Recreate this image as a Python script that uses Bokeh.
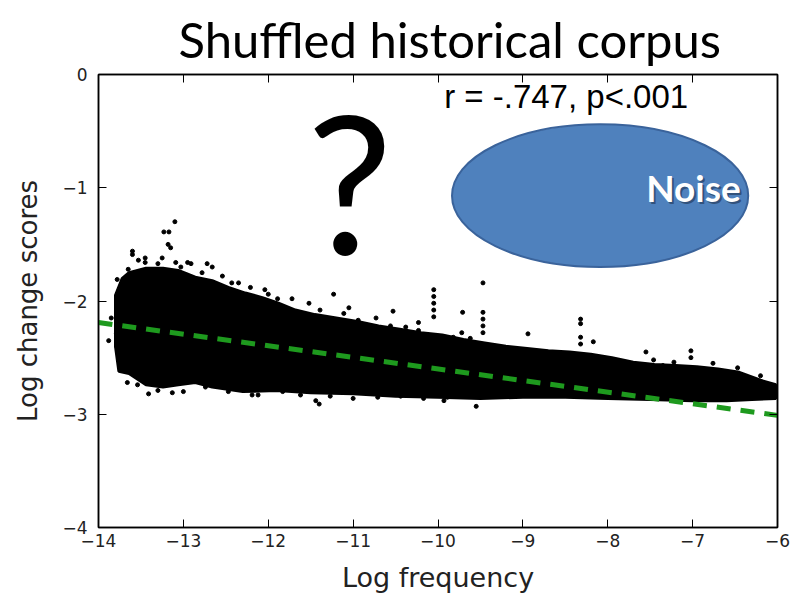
from bokeh.plotting import figure
from bokeh.models import Range1d, LinearAxis, FixedTicker, CustomJSTickFormatter
from bokeh.core.properties import value
from bokeh.embed import file_html
from bokeh.resources import INLINE

# ---- data ----
title_text = "Shuffled historical corpus"
x_label = "Log frequency"
y_label = "Log change scores"
stat_text = "r = -.747, p<.001"
x_ticks = [-14, -13, -12, -11, -10, -9, -8, -7, -6]
y_ticks = [-4, -3, -2, -1, 0]

# envelope of the dense point cloud (upper edge left->right, lower edge right->left)
cloud_upper_x = [-13.80, -13.72, -13.64, -13.44, -13.24, -13.06, -12.86, -12.66, -12.47, -12.27,
                 -12.07, -11.88, -11.68, -11.45, -11.20, -10.95, -10.70, -10.45, -10.20, -9.95,
                 -9.70, -9.45, -9.20, -8.95, -8.70, -8.45, -8.20, -7.95, -7.70, -7.45,
                 -7.20, -6.95, -6.70, -6.45, -6.20, -6.02]
cloud_upper_y = [-1.95, -1.80, -1.75, -1.71, -1.71, -1.73, -1.79, -1.82, -1.88, -1.93,
                 -1.97, -2.02, -2.08, -2.12, -2.15, -2.18, -2.22, -2.25, -2.28, -2.30,
                 -2.34, -2.37, -2.40, -2.42, -2.44, -2.45, -2.47, -2.50, -2.54, -2.56,
                 -2.57, -2.58, -2.60, -2.63, -2.70, -2.74]
cloud_lower_x = [-6.02, -6.30, -6.60, -7.00, -7.50, -8.00, -8.50, -9.00, -9.50, -10.00,
                 -10.50, -11.00, -11.50, -11.90, -12.30, -12.66, -12.86, -13.06, -13.24, -13.44,
                 -13.64, -13.76, -13.80]
cloud_lower_y = [-2.86, -2.87, -2.88, -2.88, -2.87, -2.86, -2.85, -2.85, -2.86, -2.85,
                 -2.84, -2.82, -2.81, -2.79, -2.80, -2.76, -2.72, -2.74, -2.76, -2.74,
                 -2.64, -2.62, -2.40]

# individual points standing out of / fringing the cloud
outlier_x = [-13.10, -13.23, -13.17, -13.18, -13.15, -13.60, -13.60, -13.53, -13.45, -13.25,
             -13.09, -12.91, -12.72, -12.66, -13.78, -12.43, -12.21, -12.04, -11.72, -11.52,
             -11.23, -11.05, -10.73, -10.53, -10.23, -10.05, -10.05, -10.05, -10.05, -10.05,
             -9.71, -9.47, -9.47, -9.47, -9.47, -9.47, -8.94, -8.32, -8.32, -8.32,
             -8.32, -8.17, -7.55, -7.22, -7.02, -7.02, -13.54, -13.41, -13.13, -12.12,
             -11.44, -11.40, -9.93, -9.55, -13.78, -13.79, -13.76, -13.85, -13.88,
             -13.03, -12.95, -13.45, -13.65, -13.30, -12.78, -12.54, -12.35, -12.00, -11.89,
             -13.66, -13.30, -13.00, -12.74, -12.47, -12.19, -11.83,
             -11.62, -11.27, -11.00, -10.71, -10.44, -10.17, -9.89, -9.65,
             -11.39, -11.11, -10.94, -10.56, -10.38, -10.23, -9.94, -9.82, -9.72, -9.62,
             -7.46, -7.35, -7.09, -6.76, -6.47, -6.20, -6.11, -6.00]
outlier_y = [-1.30, -1.39, -1.39, -1.50, -1.53, -1.56, -1.59, -1.64, -1.62, -1.62,
             -1.66, -1.67, -1.67, -1.70, -1.81, -1.84, -1.88, -1.90, -1.98, -2.02,
             -1.94, -2.06, -2.15, -2.09, -2.19, -1.90, -1.96, -2.02, -2.08, -2.14,
             -2.10, -1.84, -2.10, -2.16, -2.22, -2.28, -2.29, -2.16, -2.20, -2.32,
             -2.38, -2.36, -2.45, -2.54, -2.44, -2.50, -2.74, -2.82, -2.81, -2.83,
             -2.88, -2.91, -2.88, -2.93, -2.41, -2.29, -2.00, -2.15, -2.35,
             -1.70, -1.66, -1.66, -1.72, -1.67, -1.75, -1.78, -1.84, -1.94, -1.98,
             -2.72, -2.79, -2.80, -2.76, -2.80, -2.83, -2.80,
             -2.83, -2.84, -2.86, -2.85, -2.84, -2.86, -2.85, -2.84,
             -2.08, -2.11, -2.17, -2.22, -2.23, -2.26, -2.32, -2.32, -2.28, -2.33,
             -2.52, -2.57, -2.59, -2.55, -2.59, -2.66, -2.76, -2.82]

# regression (fit) line
fit_x = [-14.0, -6.0]
fit_y = [-2.19, -3.01]

# annotation shapes / labels
noise_x = [-8.09]
noise_y = [-1.07]
noise_w = [3.49]
noise_h = [1.26]
noise_label = "Noise"
question_mark = "?"

# ---- figure ----
p = figure(width=796, height=595, x_range=Range1d(-14, -6), y_range=Range1d(-4, 0),
           output_backend="svg", toolbar_location=None,
           min_border_left=98, min_border_right=19, min_border_top=73, min_border_bottom=67)
p.background_fill_color = "white"
p.border_fill_color = "white"
p.outline_line_color = "black"
p.outline_line_width = 1.5
p.grid.visible = False

p.title.text = title_text
p.title.text_font = "Lato"
p.title.text_font_size = "49px"
p.title.text_font_style = "normal"
p.title.text_color = "black"
p.title.align = "left"
p.title.offset = 80
p.title.standoff = 14

fmt = CustomJSTickFormatter(code="return (tick < 0 ? '\u2212' : '') + Math.abs(tick).toFixed(0);")
blank = CustomJSTickFormatter(code="return '';")

for ax in (p.xaxis[0], p.yaxis[0]):
    ax.major_tick_in = 8
    ax.major_tick_out = 0
    ax.minor_tick_line_color = None
    ax.axis_line_color = "black"
    ax.axis_line_width = 1.5
    ax.major_tick_line_width = 1
    ax.major_label_text_font = "DejaVu Sans"
    ax.major_label_text_font_size = "17px"
    ax.major_label_text_color = "#222222"
    ax.axis_label_text_font = "DejaVu Sans"
    ax.axis_label_text_font_style = "normal"
    ax.axis_label_text_color = "#222222"
    ax.formatter = fmt

p.xaxis[0].ticker = FixedTicker(ticks=x_ticks)
p.yaxis[0].ticker = FixedTicker(ticks=y_ticks)
p.xaxis[0].axis_label = x_label
p.yaxis[0].axis_label = y_label
p.xaxis[0].axis_label_text_font_size = "27px"
p.yaxis[0].axis_label_text_font_size = "26px"
p.xaxis[0].major_label_standoff = 6
p.xaxis[0].axis_label_standoff = 12
p.yaxis[0].major_label_standoff = 11
p.yaxis[0].axis_label_standoff = 16

top_ax = LinearAxis(ticker=FixedTicker(ticks=x_ticks), formatter=blank, major_tick_in=8,
                    major_tick_out=0, minor_tick_line_color=None, major_label_standoff=0,
                    axis_line_width=1.5)
right_ax = LinearAxis(ticker=FixedTicker(ticks=y_ticks), formatter=blank, major_tick_in=8,
                      major_tick_out=0, minor_tick_line_color=None, major_label_standoff=0,
                      axis_line_width=1.5)
p.add_layout(top_ax, "above")
p.add_layout(right_ax, "right")

# dense cloud + scattered points
p.patch(cloud_upper_x + cloud_lower_x, cloud_upper_y + cloud_lower_y,
        fill_color="black", line_color="black", line_width=3)
p.scatter(outlier_x, outlier_y, size=4, fill_color="black", line_color="black")

# fit line
p.line(fit_x, fit_y, line_color="#1e9a1e", line_width=5, line_dash="14 10")

# ellipse
p.ellipse(x=noise_x, y=noise_y, width=noise_w, height=noise_h,
          fill_color="#4F81BD", line_color="#3A639B", line_width=2)
p.text(x=[-6.99], y=[-1.0], text=[noise_label], x_offset=2, y_offset=2,
       text_font=value("Lato"), text_font_style="bold", text_font_size="37px",
       text_color="#1f3350", text_alpha=0.6, text_align="center", text_baseline="alphabetic")
p.text(x=[-6.99], y=[-1.0], text=[noise_label],
       text_font=value("Lato"), text_font_style="bold", text_font_size="37px",
       text_color="white", text_align="center", text_baseline="alphabetic")

# question mark and statistic
p.text(x=[-11.04], y=[-0.932], text=[question_mark], text_font=value("Lato"),
       text_font_style="normal", text_font_size="192px", text_color="black",
       text_align="center", text_baseline="alphabetic")
p.text(x=[-8.49], y=[-0.19], text=[stat_text], text_font=value("Liberation Sans"),
       text_font_size="33px", text_color="black", text_align="center", text_baseline="alphabetic")

open("out.html", "w").write(file_html(p, INLINE))
